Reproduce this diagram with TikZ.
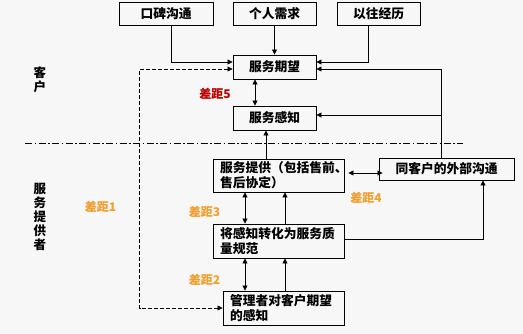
\documentclass[tikz,border=0pt]{standalone}
\usepackage{fontspec}
\setmainfont{Noto Sans CJK SC}
\usetikzlibrary{arrows.meta}
\definecolor{bgc}{HTML}{F7F7F7}
\definecolor{gapred}{HTML}{C00000}
\definecolor{gaporange}{HTML}{F0A030}
\begin{document}
\begin{tikzpicture}[x=1pt,y=-1pt,
  box/.style={draw, line width=0.9pt, inner sep=0pt, font=\bfseries\fontsize{12.75}{15}\selectfont},
  mbox/.style={box, inner xsep=7pt, text width=#1, align=left},
  arr/.style={line width=0.8pt, -{Triangle[length=5pt,width=5pt]}},
  darr/.style={line width=0.8pt, {Triangle[length=5pt,width=5pt]}-{Triangle[length=5pt,width=5pt]}},
  dasharr/.style={darr, dash pattern=on 4pt off 2pt},
  sepline/.style={line width=0.8pt, dash pattern=on 7pt off 2.5pt on 1.5pt off 2.5pt},
  gaplbl/.style={font=\bfseries\fontsize{12}{14}\selectfont, inner sep=0pt},
  side/.style={font=\bfseries\fontsize{12.5}{13.8}\selectfont, align=center, inner sep=0pt}
]
\fill[bgc] (0,0) rectangle (523,334);
\useasboundingbox (0,0) rectangle (523,334);

% top boxes
\node[box, minimum width=94pt, minimum height=23pt] (kb) at (166,13.5) {口碑沟通};
\node[box, minimum width=83pt, minimum height=23pt] (gr) at (274.5,13.5) {个人需求};
\node[box, minimum width=83pt, minimum height=23pt] (yw) at (378.5,13.5) {以往经历};
\node[box, minimum width=83pt, minimum height=24pt] (qw) at (274.5,67) {服务期望};
\node[box, minimum width=83pt, minimum height=24pt] (gz) at (274.5,118) {服务感知};

% provider boxes
\node[mbox=117pt, minimum height=33pt] (tg) at (278.5,175.5) {\mbox{服务提供（包括售前、}\\售后协定）};
\node[box, minimum width=135pt, minimum height=22pt] (wb) at (446.5,169) {同客户的外部沟通};
\node[mbox=117pt, minimum height=34pt] (jg) at (278.5,241) {\mbox{将感知转化为服务质}\\量规范};
\node[mbox=107pt, minimum height=34pt] (gl) at (283.5,308) {\mbox{管理者对客户期望}\\的感知};

% side labels
\node[side] (kh) at (40,80) {客\\户};
\node[side] (fw) at (40,217) {服\\务\\提\\供\\者};

% gap labels
\node[gaplbl, text=gapred] (g5) at (215,94) {差距5};
\node[gaplbl, text=gaporange] (g4) at (366,198) {差距4};
\node[gaplbl, text=gaporange] (g3) at (204.5,212) {差距3};
\node[gaplbl, text=gaporange] (g1) at (100.5,207) {差距1};
\node[gaplbl, text=gaporange] (g2) at (204.5,280) {差距2};

% separator
\coordinate (sl) at (25,143);
\coordinate (sr) at (463,143);
\draw[sepline] (sl) -- (sr);

% connectors
\draw[arr] ([xshift=5pt]kb.south) |- ([yshift=5pt]qw.west);
\draw[arr] (gr.south) -- (qw.north);
\draw[arr] ([xshift=-10.5pt]yw.south) |- ([yshift=5pt]qw.east);
\draw[dasharr] ([yshift=-2pt]qw.west) -| ([xshift=-83pt]gl.west) |- (gl.west);
\draw[arr] ([xshift=-5.5pt]wb.north) |- ([yshift=-2pt]qw.east);
\draw[arr] ([xshift=-5.5pt]wb.north) |- ([yshift=3pt]gz.east);
\draw[darr] ([xshift=-19.5pt]qw.south) -- ([xshift=-19.5pt]gz.north);
\draw[arr] ([xshift=-12.5pt]tg.north) -- ([xshift=-8.5pt]gz.south);
\draw[darr] ([yshift=2.5pt,xshift=4pt]tg.east) -- ([yshift=2.5pt,xshift=4pt]tg.east -| wb.west);
\draw[darr] ([xshift=-33.5pt]tg.south) -- ([xshift=-33.5pt]jg.north);
\draw[arr] ([xshift=6.5pt]jg.north) -- ([xshift=6.5pt]tg.south);
\draw[arr] ([yshift=2pt]jg.east) -| ([xshift=36.5pt]wb.south);
\draw[darr] ([xshift=-33.5pt]jg.south) -- ([xshift=-38.5pt]gl.north);
\draw[arr] ([xshift=1.5pt]gl.north) -- ([xshift=6.5pt]jg.south);
\end{tikzpicture}
\end{document}
